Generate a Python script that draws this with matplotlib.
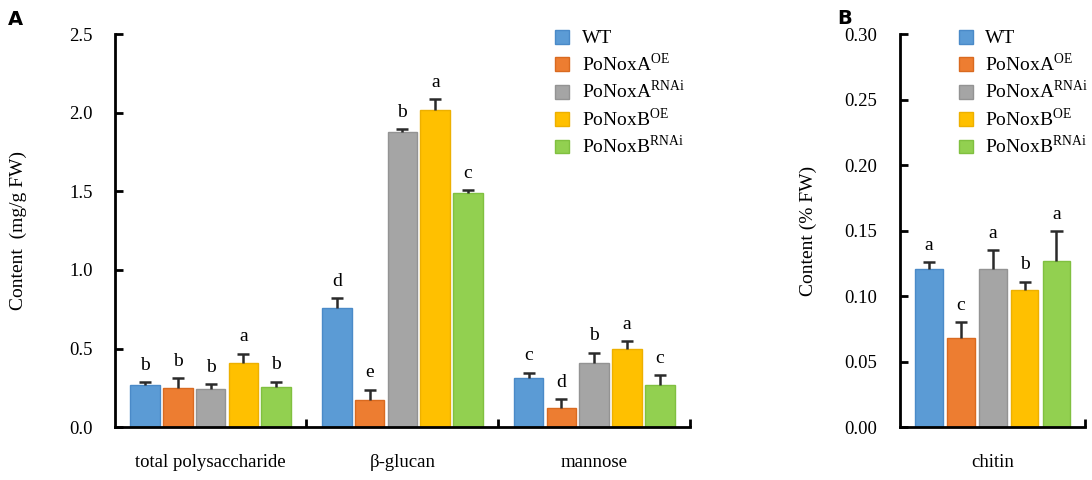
import matplotlib
matplotlib.use('Agg')
import matplotlib.pyplot as plt
import numpy as np

plt.rcParams['font.family'] = ['Liberation Serif', 'DejaVu Serif']
plt.rcParams['mathtext.fontset'] = 'custom'
plt.rcParams['mathtext.rm'] = 'Liberation Serif'

# Data
strains = ['WT', r'PoNoxA$^{\mathrm{OE}}$', r'PoNoxA$^{\mathrm{RNAi}}$',
           r'PoNoxB$^{\mathrm{OE}}$', r'PoNoxB$^{\mathrm{RNAi}}$']
colors = ['#5B9BD5', '#ED7D31', '#A5A5A5', '#FFC000', '#92D050']
edges = ['#4A8AC8', '#D96A20', '#939393', '#EDB000', '#80C040']

groups_a = ['total polysaccharide', 'β-glucan', 'mannose']
# rows: strain, columns: group
means_a = [[0.27, 0.76, 0.315],
           [0.25, 0.17, 0.125],
           [0.243, 1.875, 0.41],
           [0.41, 2.015, 0.50],
           [0.256, 1.49, 0.27]]
errs_a = [[0.018, 0.06, 0.032],
          [0.06, 0.068, 0.055],
          [0.032, 0.02, 0.064],
          [0.058, 0.072, 0.045],
          [0.034, 0.018, 0.062]]
letters_a = [['b', 'd', 'c'],
             ['b', 'e', 'd'],
             ['b', 'b', 'b'],
             ['a', 'a', 'a'],
             ['b', 'c', 'c']]

groups_b = ['chitin']
means_b = [0.121, 0.068, 0.121, 0.1046, 0.127]
errs_b = [0.005, 0.012, 0.014, 0.0065, 0.0225]
letters_b = ['a', 'c', 'a', 'b', 'a']

fig = plt.figure(figsize=(10.92, 4.8), dpi=100)
ax_a = fig.add_axes([0.105, 0.110, 0.527, 0.819])
ax_b = fig.add_axes([0.824, 0.110, 0.170, 0.819])


def style_axes(ax, n_groups, labels):
    ax.set_xlim(0, n_groups)
    for s in ['top', 'right']:
        ax.spines[s].set_visible(False)
    for s in ['left', 'bottom']:
        ax.spines[s].set_linewidth(2)
    ax.set_xticks(np.arange(n_groups) + 0.5)
    ax.set_xticklabels(labels, fontsize=13.5)
    ax.tick_params(axis='x', length=0, pad=19)
    ax.set_xticks(np.arange(1, n_groups + 1), minor=True)
    ax.tick_params(axis='x', which='minor', direction='in', length=6, width=2)
    ax.tick_params(axis='y', direction='in', length=6, width=2, pad=16,
                   labelsize=13.5)


def up_errors(ax, xs, tops, errs, cap):
    # upper-only error bars with a cap
    ax.vlines(xs, tops, np.add(tops, errs), color='#2a2a2a', lw=1.8, zorder=3)
    ax.hlines(np.add(tops, errs), np.subtract(xs, cap / 2), np.add(xs, cap / 2),
              color='#2a2a2a', lw=1.8, zorder=3)


def add_legend(ax, anchor):
    ax.legend(loc='upper left', bbox_to_anchor=anchor, frameon=False,
              fontsize=14, handlelength=0.72, handleheight=0.72,
              labelspacing=0.25, handletextpad=0.62, borderpad=0,
              borderaxespad=0)


# Panel A
width_a = 0.155
step_a = 0.171
x_a = np.arange(len(groups_a)) + 0.5
for i in range(len(strains)):
    xs = x_a + (i - 2) * step_a
    ax_a.bar(xs, means_a[i], width_a, color=colors[i], edgecolor=edges[i],
             linewidth=1, label=strains[i], zorder=2)
    up_errors(ax_a, xs, means_a[i], errs_a[i], 0.062)
    for x, m, e, t in zip(xs, means_a[i], errs_a[i], letters_a[i]):
        ax_a.annotate(t, (x, m + e), xytext=(0, 6), textcoords='offset points',
                      ha='center', va='bottom', fontsize=14)
ax_a.set_ylim(0, 2.5)
ax_a.set_yticks(np.arange(0, 2.51, 0.5))
ax_a.set_yticklabels(['%.1f' % v for v in np.arange(0, 2.51, 0.5)])
style_axes(ax_a, 3, groups_a)
ax_a.set_ylabel('Content  (mg/g FW)', fontsize=14, labelpad=30)
add_legend(ax_a, (0.766, 1.011))

# Panel B
width_b = 0.15
step_b = 0.172
x_b = 0.5 + (np.arange(len(strains)) - 2) * step_b
for i in range(len(strains)):
    ax_b.bar(x_b[i], means_b[i], width_b, color=colors[i], edgecolor=edges[i],
             linewidth=1, label=strains[i], zorder=2)
    ax_b.annotate(letters_b[i], (x_b[i], means_b[i] + errs_b[i]),
                  xytext=(0, 6), textcoords='offset points', ha='center',
                  va='bottom', fontsize=14)
up_errors(ax_b, x_b, means_b, errs_b, 0.065)
ax_b.set_ylim(0, 0.30)
ax_b.set_yticks(np.arange(0, 0.301, 0.05))
ax_b.set_yticklabels(['%.2f' % v for v in np.arange(0, 0.301, 0.05)])
style_axes(ax_b, 1, groups_b)
ax_b.set_ylabel('Content (% FW)', fontsize=14, labelpad=20)
add_legend(ax_b, (0.32, 1.011))

fig.text(0.007, 0.96, 'A', fontsize=14, fontweight='bold',
         family='DejaVu Sans', va='center')
fig.text(0.767, 0.962, 'B', fontsize=14, fontweight='bold',
         family='DejaVu Sans', va='center')

fig.savefig('out.png', dpi=100)
